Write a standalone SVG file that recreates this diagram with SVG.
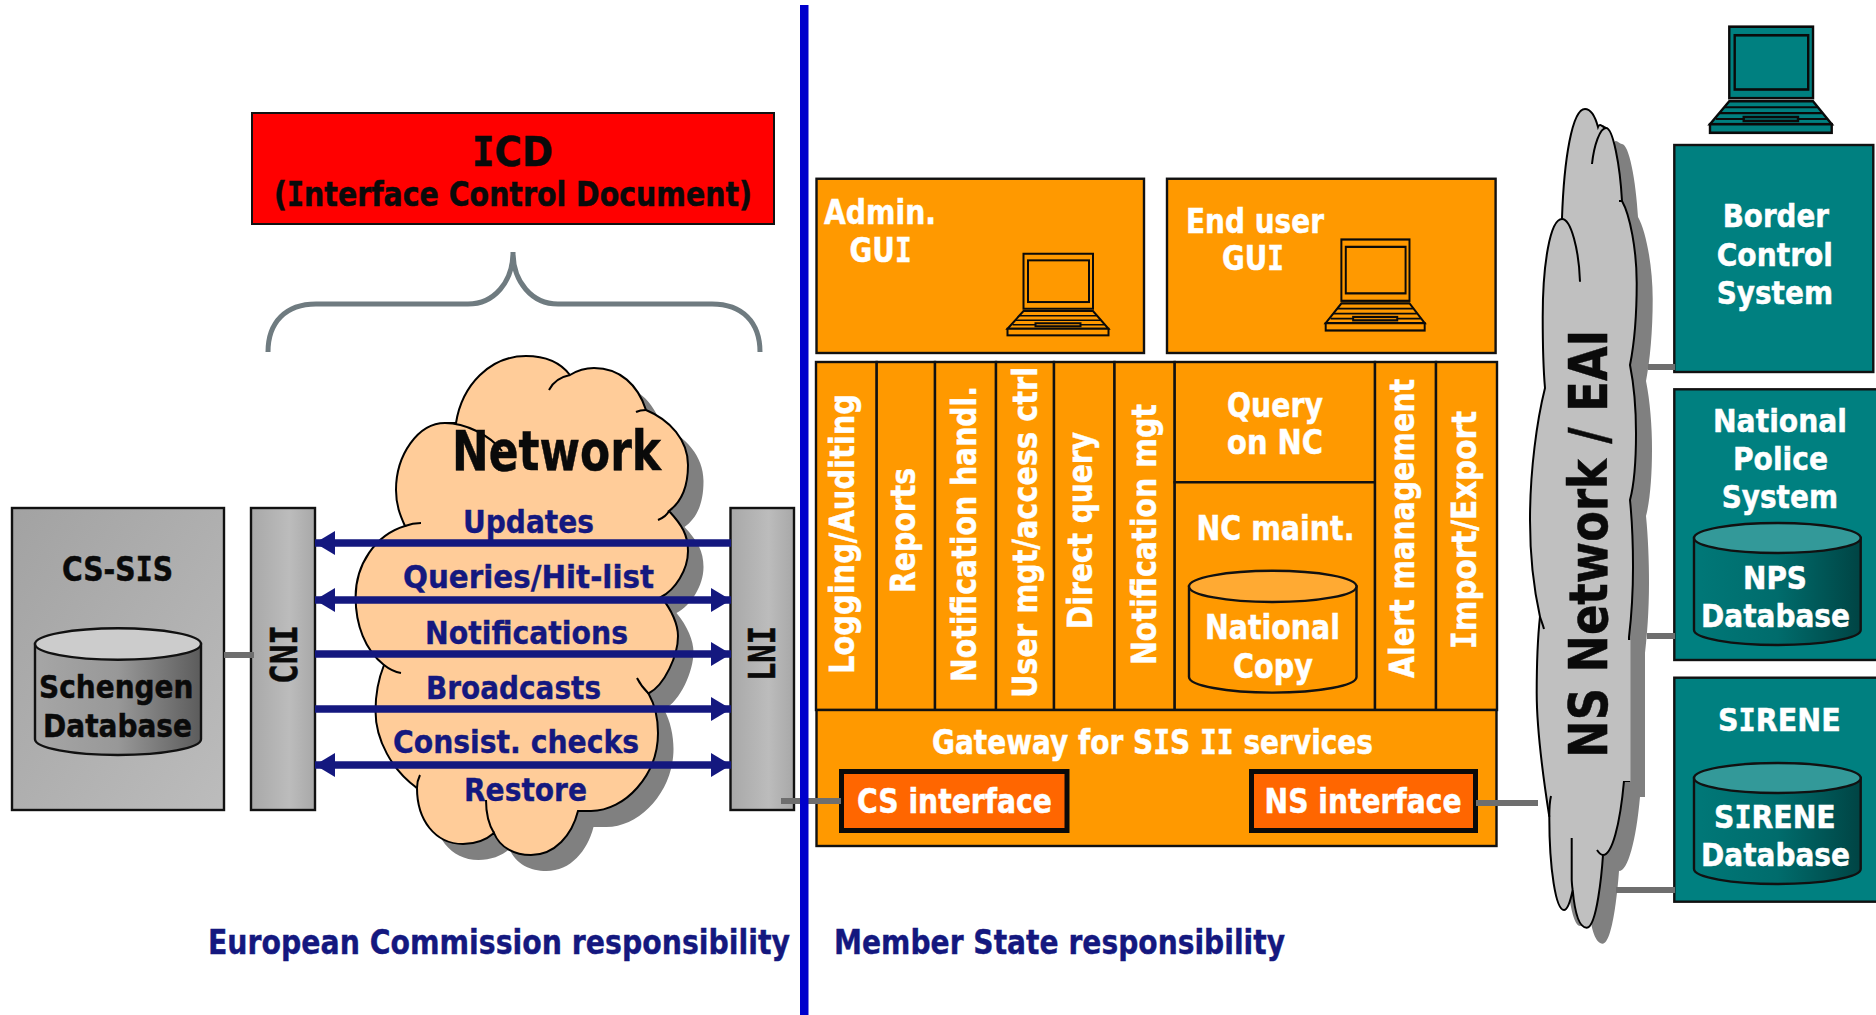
<svg xmlns="http://www.w3.org/2000/svg" xmlns:xlink="http://www.w3.org/1999/xlink" width="1876" height="1015" viewBox="0 0 1876 1015">
<style>
text{font-family:"DejaVu Sans","Liberation Sans",sans-serif;font-weight:bold;font-size:33px}
.m{font-family:"DejaVu Sans Mono","Liberation Mono",monospace}
.w{fill:#fff;stroke:#fff;stroke-width:.5}.k{fill:#0a0a0a;stroke:#0a0a0a;stroke-width:.5}.n{fill:#14187f;stroke:#14187f;stroke-width:.4}
.f{font-size:32px}
.s{stroke:#111;stroke-width:2.4}
.o{fill:#f90;stroke:#111;stroke-width:2.4}
.t{fill:#008080;stroke:#111;stroke-width:2.4}
.ci{fill:#f60;stroke:#0a0a0a;stroke-width:5}
.c{fill:none;stroke:#6e6e6e;stroke-width:6}
.a{stroke:#14187f;stroke-width:7.5;fill:none}
.cl{stroke:#000;stroke-width:2}
</style>
<defs>
<linearGradient id="g1" x1="0" y1="0" x2="1" y2="1"><stop offset="0" stop-color="#a2a2a2"/><stop offset="1" stop-color="#bcbcbc"/></linearGradient>
<linearGradient id="g2" x1="0" y1="0" x2="1" y2="0"><stop offset="0" stop-color="#a8a8a8"/><stop offset=".6" stop-color="#bcbcbc"/><stop offset="1" stop-color="#a8a8a8"/></linearGradient>
<linearGradient id="g3" x1="0" y1="0" x2="1" y2="0"><stop offset="0" stop-color="#a6a6a6"/><stop offset=".5" stop-color="#989898"/><stop offset="1" stop-color="#5c5c5c"/></linearGradient>
<linearGradient id="g4" x1="0" y1="0" x2="1" y2="0"><stop offset="0" stop-color="#007878"/><stop offset=".5" stop-color="#006c6c"/><stop offset="1" stop-color="#004444"/></linearGradient>
<marker id="h" markerUnits="userSpaceOnUse" markerWidth="21" markerHeight="26" refX="20" refY="12.5" orient="auto-start-reverse"><path d="M0,0.5L20,12.5L0,24.5z" fill="#14187f"/></marker>
<g id="laptop" stroke="#0a0a0a" stroke-width="2">
<rect x="16" y="0" width="69.5" height="55"/>
<rect x="20.5" y="6.6" width="61" height="41.7"/>
<path d="M16,57.3H85.5L101,75H0z"/>
<rect x="0" y="75" width="101" height="6.6"/>
<path d="M12,62H89M8,66.5H93M5,71H97" fill="none" stroke-width="1.6"/>
<rect x="28" y="69.5" width="45" height="3"/>
</g>
<path id="cloud1" d="M456,423C462,385 490,356 526,356C545,356 560,362 570,375C578,370 586,368 594,368C620,368 638,385 646,410C670,420 688,440 688,465C688,490 680,503 669,511C682,525 688,535 688,551C688,570 675,590 661,597C672,610 678,625 678,636C678,655 665,685 648.5,693.5C655,705 658,720 658,733C658,775 625,811 591,811C586,811 582,811 578,811C572,835 555,855 531,855C515,855 500,848 494,833C486,840 475,844 463,844C435,844 417,820 417,788C392,770 375.5,740 375.5,711C375.5,695 378,680 384,665C365,650 355.6,625 355.6,597C355.6,565 375,535 405,526C400,515 396,505 396,490C396,455 418,423 445,423C449,423 453,423 456,423z"/>
<path id="cloud2" d="M1562,218C1564,160 1572,109 1585,109C1591,109 1595,116 1598,127C1600,122 1603,128 1606,128C1613,128 1620,165 1622,201C1630,215 1636.7,250 1636.7,283C1636.7,315 1634,345 1630,365C1634,385 1636,410 1636,433C1636,460 1634,485 1630,500C1632,520 1633,545 1633,567C1633,595 1631,620 1629,637L1629,781L1624,781C1620,825 1612,855 1603,855C1602,870 1597,927.7 1586.7,927.7C1580,927.7 1575,915 1572.7,890C1570,903 1567,910 1564,910C1556,910 1549.3,870 1549.3,816.7C1542,770 1536.7,730 1536.7,693C1536.7,665 1538,635 1540,616.7C1534,590 1530,555 1530,520C1530,470 1537,420 1545,388C1543,365 1542.7,340 1542.7,316.7C1542.7,265 1550,219 1562,219z"/>
</defs>

<g id="icd"><rect x="252" y="113" width="522" height="111" fill="#f00" stroke="#111" stroke-width="2"/>
<text class="k" x="472" y="166" style="font-size:41px" textLength="81" lengthAdjust="spacingAndGlyphs"><tspan class="m">I</tspan>CD</text>
<text class="k" x="274" y="206" textLength="478" lengthAdjust="spacingAndGlyphs">(<tspan class="m">I</tspan>nterface Control Document)</text></g>
<path id="brace" d="M268,352C268,322 286,304 316,304H468C494,304 513,282 513,252C513,282 532,304 558,304H712C742,304 760,322 760,352" fill="none" stroke="#6f7b80" stroke-width="5"/>

<g id="network-cloud">
<use xlink:href="#cloud1" href="#cloud1" x="15.5" y="16" fill="#808080"/>
<use xlink:href="#cloud1" href="#cloud1" fill="#fc9" class="cl"/>
<path class="cl" fill="none" d="M549,390C553,382 560,377 570,375M636,412C640,410 643,410 646,410M658,520C663,518 667,515 669,511M637,678C640,684 645,690 648.5,693.5M417,788C417,783 418,779 420,775M486,800C486,812 489,825 494,833M384,665C389,669 395,672 401,673M405,526C410,524 415,523 421,523M445,423C465,423 490,435 502,451"/>
<text class="k" x="452" y="470" style="font-size:55px" textLength="209" lengthAdjust="spacingAndGlyphs">Network</text>
</g>

<g id="cs-sis"><rect x="12" y="508" width="212" height="302" fill="url(#g1)" class="s"/>
<text class="k" x="62" y="581" textLength="111" lengthAdjust="spacingAndGlyphs">CS-S<tspan class="m">I</tspan>S</text>
<g id="schengen-db"><path d="M35,644V739.3A83,15.7 0 0 0 201,739.3V644z" fill="url(#g3)" class="s"/><ellipse cx="118" cy="644" rx="83" ry="15.7" fill="#ccc" class="s"/>
<text class="k f" x="39" y="698" textLength="154.500" lengthAdjust="spacingAndGlyphs">Schengen</text>
<text class="k f" x="43" y="737" textLength="149" lengthAdjust="spacingAndGlyphs">Database</text></g></g>

<g id="cni"><rect x="251" y="508" width="64" height="302" fill="url(#g2)" class="s"/>
<text class="k m" transform="translate(297,684) rotate(-90)" style="font-size:38px" textLength="59" lengthAdjust="spacingAndGlyphs">CNI</text></g>
<g id="lni"><rect x="730.500" y="508" width="63.500" height="302" fill="url(#g2)" class="s"/>
<text class="k m" transform="translate(775,681) rotate(-90)" style="font-size:38px" textLength="55" lengthAdjust="spacingAndGlyphs">LNI</text></g>

<g id="admin-gui"><rect x="816.500" y="178.750" width="327.500" height="174.250" class="o"/>
<text class="w" x="824" y="224" textLength="112" lengthAdjust="spacingAndGlyphs">Admin.</text>
<text class="w" x="849.600" y="262" textLength="62" lengthAdjust="spacingAndGlyphs">GU<tspan class="m">I</tspan></text>
<use xlink:href="#laptop" href="#laptop" transform="translate(1007.500,253.750)" fill="#f90"/></g>
<g id="enduser-gui"><rect x="1167" y="178.750" width="328.600" height="174.250" class="o"/>
<text class="w" x="1186" y="233" textLength="138" lengthAdjust="spacingAndGlyphs">End user</text>
<text class="w" x="1222" y="270" textLength="62" lengthAdjust="spacingAndGlyphs">GU<tspan class="m">I</tspan></text>
<use xlink:href="#laptop" href="#laptop" transform="translate(1325.700,239.500) scale(.98,1.115)" fill="#f90"/></g>

<g id="logging"><rect x="816" y="362" width="60.700" height="348" class="o"/><text class="w" transform="translate(853.500,674) rotate(-90)" textLength="280" lengthAdjust="spacingAndGlyphs">Logging/Auditing</text></g>
<g id="reports"><rect x="876.700" y="362" width="58.300" height="348" class="o"/><text class="w" transform="translate(914.500,593) rotate(-90)" textLength="125" lengthAdjust="spacingAndGlyphs">Reports</text></g>
<g id="notif-handl"><rect x="935" y="362" width="61" height="348" class="o"/><text class="w" transform="translate(975.500,682) rotate(-90)" textLength="296" lengthAdjust="spacingAndGlyphs">Notification handl.</text></g>
<g id="user-mgt"><rect x="996" y="362" width="58" height="348" class="o"/><text class="w" transform="translate(1036.500,698) rotate(-90)" textLength="331" lengthAdjust="spacingAndGlyphs">User mgt/access ctrl</text></g>
<g id="direct-query"><rect x="1054" y="362" width="60.500" height="348" class="o"/><text class="w" transform="translate(1092,629) rotate(-90)" textLength="197" lengthAdjust="spacingAndGlyphs">Direct query</text></g>
<g id="notif-mgt"><rect x="1114.500" y="362" width="60.200" height="348" class="o"/><text class="w" transform="translate(1155.500,665) rotate(-90)" textLength="261" lengthAdjust="spacingAndGlyphs">Notification mgt</text></g>
<g id="query-nc"><rect x="1174.700" y="362" width="200.300" height="120.300" class="o"/>
<text class="w" x="1227" y="416.600" textLength="96" lengthAdjust="spacingAndGlyphs">Query</text>
<text class="w" x="1227" y="453.600" textLength="96" lengthAdjust="spacingAndGlyphs">on NC</text></g>
<g id="nc-maint"><rect x="1174.700" y="482.300" width="200.300" height="227.700" class="o"/>
<text class="w" x="1196.500" y="540" textLength="158" lengthAdjust="spacingAndGlyphs">NC maint.</text>
<g id="national-copy"><path d="M1189,586.400V677A83.750,15.600 0 0 0 1356.500,677V586.400z" class="o"/><ellipse cx="1272.750" cy="586.400" rx="83.750" ry="15.600" fill="#fa3" class="s"/>
<text class="w" x="1205" y="639" textLength="135" lengthAdjust="spacingAndGlyphs">National</text>
<text class="w" x="1233" y="678" textLength="80" lengthAdjust="spacingAndGlyphs">Copy</text></g></g>
<g id="alert"><rect x="1375" y="362" width="61" height="348" class="o"/><text class="w" transform="translate(1413.500,678) rotate(-90)" textLength="299" lengthAdjust="spacingAndGlyphs">Alert management</text></g>
<g id="import-export"><rect x="1436" y="362" width="61" height="348" class="o"/><text class="w" transform="translate(1475.500,649) rotate(-90)" textLength="238" lengthAdjust="spacingAndGlyphs"><tspan class="m">I</tspan>mport/Export</text></g>

<g id="gateway"><rect x="816.500" y="710" width="680" height="136" class="o"/>
<text class="w" x="932" y="753.600" textLength="441" lengthAdjust="spacingAndGlyphs">Gateway for S<tspan class="m">I</tspan>S <tspan class="m">II</tspan> services</text>
<g id="cs-interface"><rect x="841.500" y="771.500" width="225.500" height="59" class="ci"/><text class="w" x="857" y="813" textLength="195" lengthAdjust="spacingAndGlyphs">CS interface</text></g>
<g id="ns-interface"><rect x="1251.500" y="771.500" width="224" height="59" class="ci"/><text class="w" x="1264.600" y="813" textLength="197" lengthAdjust="spacingAndGlyphs">NS interface</text></g></g>

<g id="ns-cloud">
<use xlink:href="#cloud2" href="#cloud2" x="16" y="16" fill="#808080"/>
<use xlink:href="#cloud2" href="#cloud2" fill="#c0c0c0" class="cl"/>
<path class="cl" fill="none" d="M1592,164C1594,145 1600,128 1606,128M1619,201L1622,201M1597,850C1599,853 1601,855 1603,855M1571.700,838V880C1572,885 1572.300,888 1572.700,890M1549.300,816.700C1549.300,808 1550,800 1551,796M1540,616.700C1541,620 1543,625 1544,629M1562,219C1571,219 1579,250 1580,281.700"/>
<rect x="1570" y="640" width="60.500" height="141" fill="#c0c0c0"/>
<text class="k" transform="translate(1607.300,757.800) rotate(-90)" style="font-size:54px" textLength="428" lengthAdjust="spacingAndGlyphs">NS Network / EAI</text>
</g>

<g id="border-control">
<use xlink:href="#laptop" href="#laptop" transform="translate(1710,26.700) scale(1.205,1.3)" fill="#008080"/>
<rect x="1674.300" y="145" width="199" height="227" class="t"/>
<text class="w f" x="1722.700" y="227" textLength="106.300" lengthAdjust="spacingAndGlyphs">Border</text>
<text class="w f" x="1716.700" y="265.700" textLength="116.300" lengthAdjust="spacingAndGlyphs">Control</text>
<text class="w f" x="1716.700" y="304" textLength="116.300" lengthAdjust="spacingAndGlyphs">System</text></g>
<g id="national-police"><rect x="1674.300" y="389.300" width="203" height="270.700" class="t"/>
<text class="w f" x="1713" y="432" textLength="134" lengthAdjust="spacingAndGlyphs">National</text>
<text class="w f" x="1733" y="470" textLength="95" lengthAdjust="spacingAndGlyphs">Police</text>
<text class="w f" x="1721.700" y="508" textLength="116.300" lengthAdjust="spacingAndGlyphs">System</text>
<g id="nps-db"><path d="M1694,538V630A83.350,15 0 0 0 1860.700,630V538z" fill="url(#g4)" class="s"/><ellipse cx="1777.350" cy="538" rx="83.350" ry="15" fill="#399" class="s"/>
<text class="w f" x="1743" y="589" textLength="64" lengthAdjust="spacingAndGlyphs">NPS</text>
<text class="w f" x="1701" y="627" textLength="149" lengthAdjust="spacingAndGlyphs">Database</text></g></g>
<g id="sirene"><rect x="1674.300" y="677.700" width="203" height="224" class="t"/>
<text class="w f" x="1718" y="730.500" textLength="122.700" lengthAdjust="spacingAndGlyphs">S<tspan class="m">I</tspan>RENE</text>
<g id="sirene-db"><path d="M1694,778V869A83.350,15 0 0 0 1860.700,869V778z" fill="url(#g4)" class="s"/><ellipse cx="1777.350" cy="778" rx="83.350" ry="15" fill="#399" class="s"/>
<text class="w f" x="1714" y="827.500" textLength="121.700" lengthAdjust="spacingAndGlyphs">S<tspan class="m">I</tspan>RENE</text>
<text class="w f" x="1701" y="866" textLength="149" lengthAdjust="spacingAndGlyphs">Database</text></g></g>

<g id="connectors">
<line class="c" x1="224" y1="655" x2="254" y2="655"/>
<line class="c" x1="781" y1="801" x2="841" y2="801"/>
<line class="c" x1="1476" y1="803" x2="1538" y2="803"/>
<line class="c" x1="1648" y1="367" x2="1675" y2="367"/>
<line class="c" x1="1647" y1="636" x2="1675" y2="636"/>
<line class="c" x1="1616" y1="890" x2="1675" y2="890"/>
<line class="a" x1="315" y1="543" x2="731" y2="543" marker-start="url(#h)"/>
<line class="a" x1="315" y1="600" x2="731" y2="600" marker-start="url(#h)" marker-end="url(#h)"/>
<line class="a" x1="315" y1="654" x2="731" y2="654" marker-end="url(#h)"/>
<line class="a" x1="315" y1="709" x2="731" y2="709" marker-end="url(#h)"/>
<line class="a" x1="315" y1="765" x2="731" y2="765" marker-start="url(#h)" marker-end="url(#h)"/>
</g>

<g id="flow-labels">
<text class="n f" x="463" y="533" textLength="131" lengthAdjust="spacingAndGlyphs">Updates</text>
<text class="n f" x="403" y="588" textLength="251" lengthAdjust="spacingAndGlyphs">Queries/Hit-list</text>
<text class="n f" x="425" y="644" textLength="203" lengthAdjust="spacingAndGlyphs">Notifications</text>
<text class="n f" x="426" y="699" textLength="175" lengthAdjust="spacingAndGlyphs">Broadcasts</text>
<text class="n f" x="393" y="753" textLength="246" lengthAdjust="spacingAndGlyphs">Consist. checks</text>
<text class="n f" x="464" y="800.500" textLength="123" lengthAdjust="spacingAndGlyphs">Restore</text>
</g>

<g id="divider"><rect x="800" y="5" width="8.5" height="1010" fill="#0000cc"/></g>

<text class="n" x="208" y="953.500" textLength="582" lengthAdjust="spacingAndGlyphs">European Commission responsibility</text>
<text class="n" x="834" y="953.500" textLength="451" lengthAdjust="spacingAndGlyphs">Member State responsibility</text>
</svg>
